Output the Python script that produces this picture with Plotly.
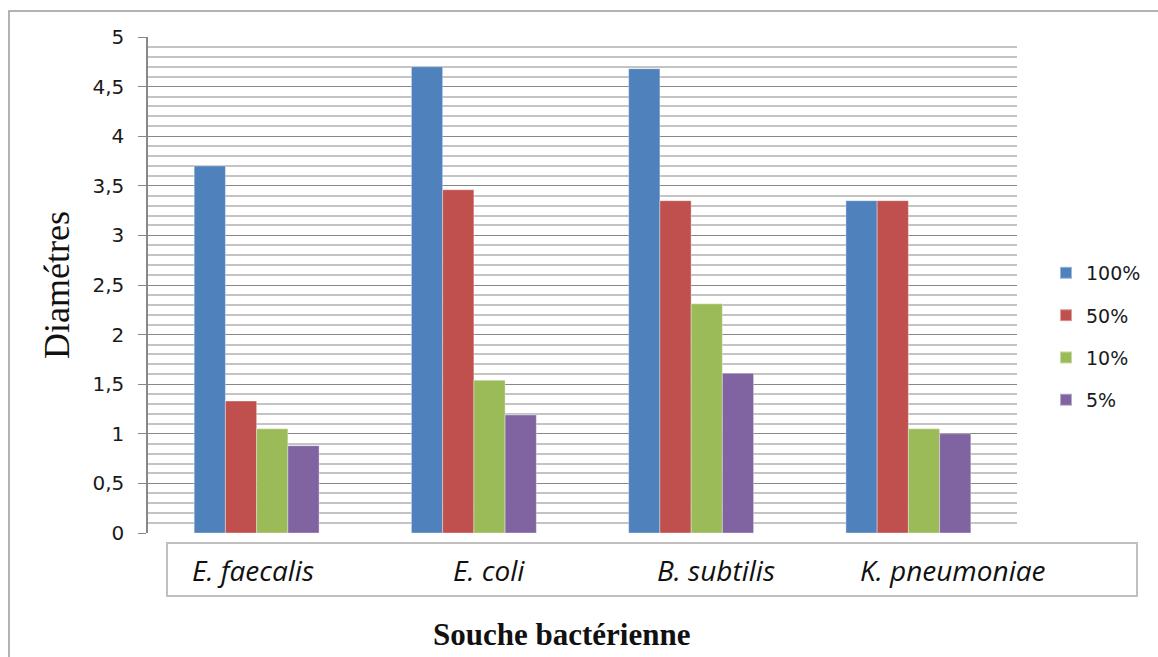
import plotly.graph_objects as go

# Strains tested and zone diameters for each extract concentration
souches = ["E. faecalis", "E. coli", "B. subtilis", "K. pneumoniae"]
concentrations = ["100%", "50%", "10%", "5%"]
d_100 = [3.70, 4.70, 4.68, 3.35]
d_50 = [1.33, 3.46, 3.35, 3.35]
d_10 = [1.05, 1.54, 2.31, 1.05]
d_5 = [0.88, 1.19, 1.61, 1.00]

series = [d_100, d_50, d_10, d_5]
couleurs = ["#4F81BD", "#C0504D", "#9BBB59", "#8064A2"]

fig = go.Figure()
for i, (nom, vals, col) in enumerate(zip(concentrations, series, couleurs)):
    fig.add_trace(go.Bar(
        x=souches, y=vals, name=nom, legendgroup=nom,
        marker=dict(color=col, line=dict(color="rgba(255,255,255,0.45)", width=0.8)),
    ))

# plot area: x 148..1017 px, y 37..533 px
W, H = 1158, 657
L, R, T, B = 148, 1158 - 1017, 37, 657 - 533
pw, ph = W - L - R, H - T - B


def px(x):
    return (x - L) / pw


def py(y):
    return (H - B - y) / ph


grid_major = "#888888"
grid_minor = "#c4c4c4"

fig.update_layout(
    width=W, height=H,
    margin=dict(l=L, r=R, t=T, b=B, autoexpand=False),
    paper_bgcolor="white", plot_bgcolor="white",
    barmode="group", bargap=0.425, bargroupgap=0,
    separators=", ",
    showlegend=True,
    legend=dict(
        x=px(1046), y=py(254), xanchor="left", yanchor="top",
        font=dict(family="DejaVu Sans", size=19, color="#1a1a1a"),
        tracegroupgap=14.6, itemsizing="constant", itemwidth=30,
        bgcolor="rgba(0,0,0,0)",
    ),
    xaxis=dict(
        range=[-0.5, 3.5], showticklabels=False, ticks="",
        showgrid=False, zeroline=False,
        showline=False,
    ),
    yaxis=dict(
        range=[0, 5], dtick=0.5, tick0=0,
        showgrid=True, gridcolor=grid_major, gridwidth=1.2,
        minor=dict(dtick=0.1, showgrid=True, gridcolor=grid_minor, gridwidth=1.5, ticks=""),
        showline=True, linecolor=grid_major, linewidth=1.5,
        ticks="outside", ticklen=8, tickcolor=grid_major, tickwidth=1.2,
        ticklabelstandoff=10,
        tickfont=dict(family="DejaVu Sans", size=20, color="#1a1a1a"),
        zeroline=False,
    ),
)

shapes = [
    # chart frame
    dict(type="rect", xref="paper", yref="paper",
         x0=px(9), x1=px(1175), y0=py(700), y1=py(11),
         line=dict(color="#9a9a9a", width=1.5), layer="below"),
    # box holding the strain names
    dict(type="rect", xref="paper", yref="paper",
         x0=px(167), x1=px(1137), y0=py(596), y1=py(543),
         line=dict(color="#c0c0c0", width=2)),
]
fig.update_layout(shapes=shapes)

ann = []
label_x = [253, 489, 716, 953]
for s, xc in zip(souches, label_x):
    ann.append(dict(
        text=f"<i>{s}</i>", xref="paper", yref="paper",
        x=px(xc), y=py(570), xanchor="center", yanchor="middle", showarrow=False,
        font=dict(family="Open Sans", size=28, color="#111111"),
    ))
ann.append(dict(
    text="<b>Souche bactérienne</b>", xref="paper", yref="paper",
    x=px(561), y=py(634), xanchor="center", yanchor="middle", showarrow=False,
    font=dict(family="Liberation Serif", size=31, color="#111111"),
))
ann.append(dict(
    text="Diamétres", xref="paper", yref="paper", textangle=-90,
    x=px(57), y=py(285), xanchor="center", yanchor="middle", showarrow=False,
    font=dict(family="Liberation Serif", size=36, color="#111111"),
))
fig.update_layout(annotations=ann)

fig.write_html("out.html")
